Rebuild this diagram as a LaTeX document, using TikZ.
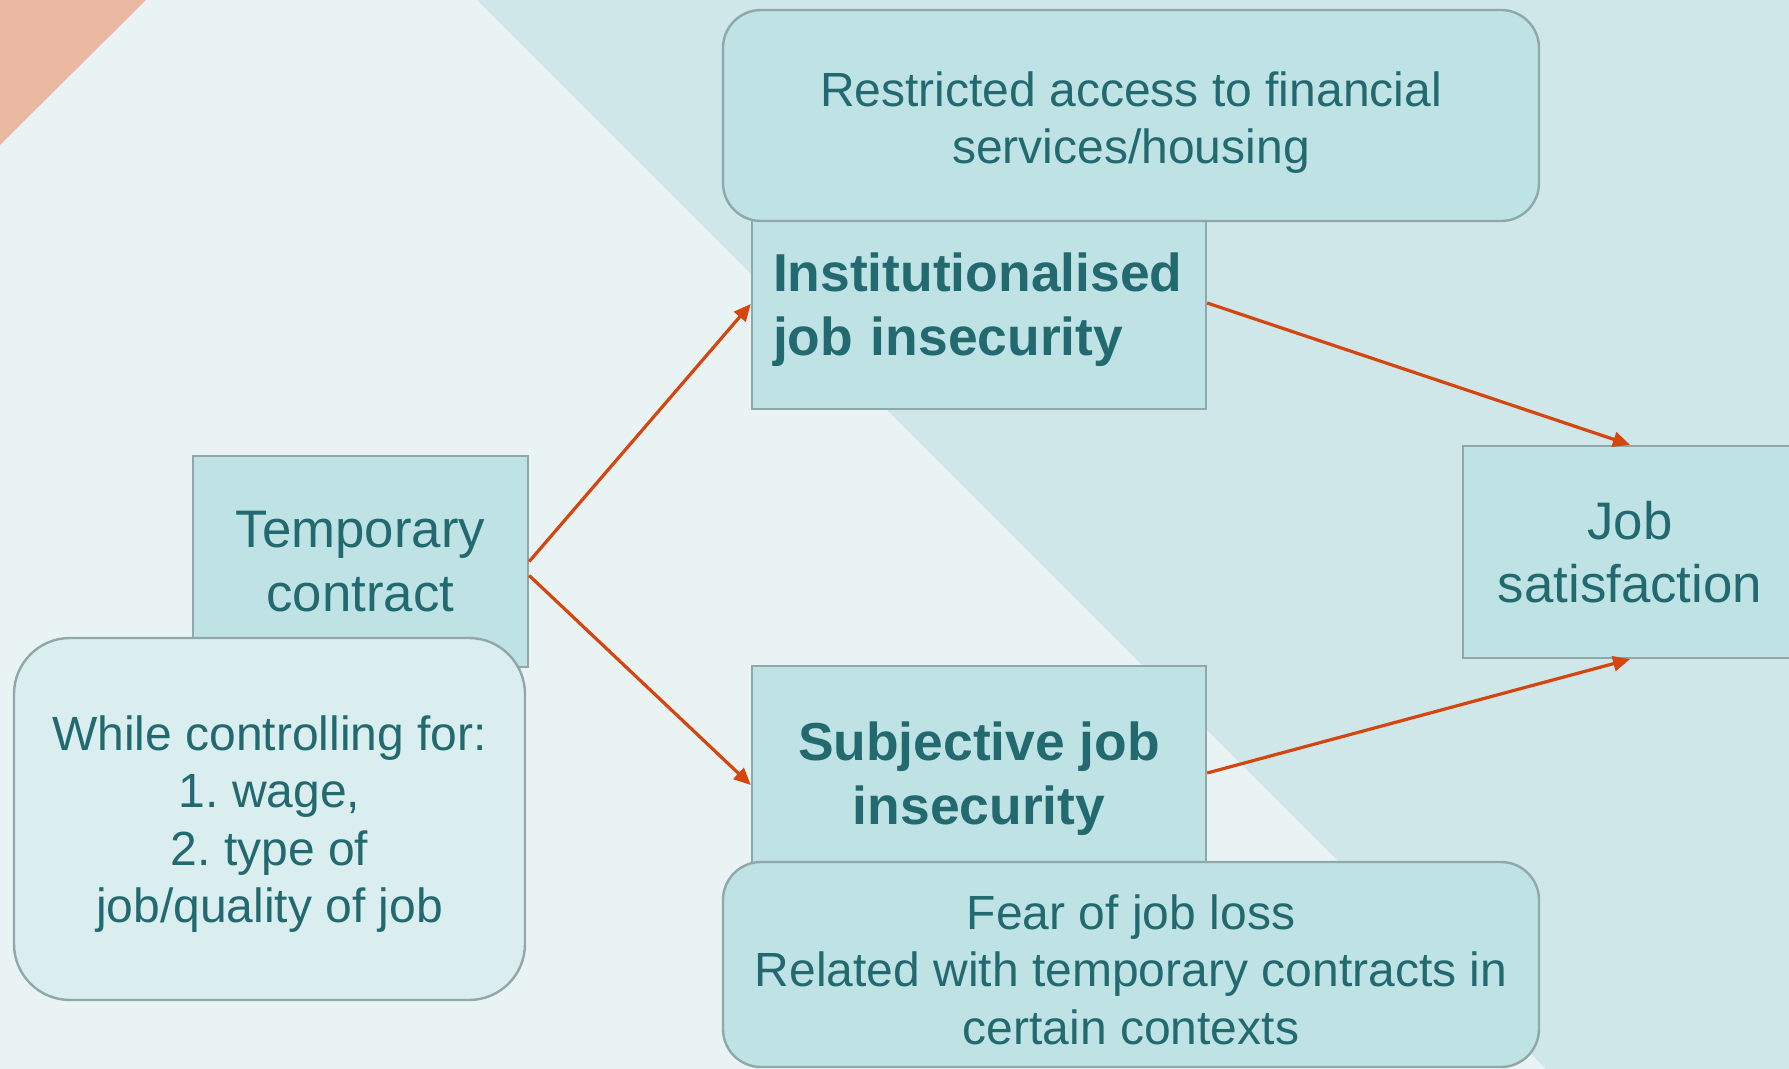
\documentclass[tikz,border=0pt]{standalone}
\usepackage{fontspec}
\setmainfont{Liberation Sans}
\usetikzlibrary{arrows.meta,calc}
\frenchspacing

\definecolor{bglight}{HTML}{EAF3F4}
\definecolor{bgteal}{HTML}{D0E7EA}
\definecolor{bgorange}{HTML}{EBB9A1}
\definecolor{boxfill}{HTML}{BFE2E5}
\definecolor{softfill}{HTML}{DAEEF0}
\definecolor{boxline}{HTML}{8FA8AA}
\definecolor{ink}{HTML}{236A70}
\definecolor{arrowred}{HTML}{D5450E}

\tikzset{
  box/.style={draw=boxline, line width=1.2pt, fill=boxfill, text=ink,
    inner sep=0pt, align=center},
  roundbox/.style={box, rounded corners=19pt},
  bigtext/.style={font=\fontsize{26.4}{31.75}\selectfont},
  boldtext/.style={font=\fontsize{26.7}{32}\selectfont\bfseries},
  smalltext/.style={font=\fontsize{24}{28.75}\selectfont},
  note/.style={text=ink, align=center, smalltext},
  link/.style={draw=arrowred, line width=1.6pt,
    -{Triangle[length=8.5pt,width=7.5pt]}},
}

\begin{document}
\begin{tikzpicture}[x=0.5pt,y=-0.5pt]
  % page and background panels
  \useasboundingbox (0,0) rectangle (1789,1069);
  \fill[bglight] (0,0) rectangle (1789,1069);
  \fill[bgteal] (477,0) -- (1789,0) -- (1789,1069) -- (1546,1069) -- cycle;
  \fill[bgorange] (0,0) -- (146,0) -- (0,145) -- cycle;

  % upper branch
  \node[box, boldtext, minimum width=227pt, minimum height=99pt,
        text width=206pt, align=left] (inst) at (979,310)
        {Institutionalised\\job insecurity};
  \node[roundbox, minimum width=408pt, minimum height=105.5pt,
        label={[note, yshift=-3.5pt]center:{Restricted access to financial\\services/housing}}]
        (restr) at (1131,115.5) {};

  % left: cause and controls
  \node[box, bigtext, minimum width=167.5pt, minimum height=105.5pt]
        (temp) at (360.5,561.5) {Temporary\\contract};
  \node[roundbox, fill=softfill, rounded corners=28pt,
        minimum width=255.5pt, minimum height=181pt,
        label={[note, yshift=-2.5pt]center:{While controlling for:\\1. wage,\\2. type of\\job/quality of job}}]
        (ctrl) at (269.5,819) {};

  % outcome
  \node[box, bigtext, minimum width=167pt, minimum height=106pt]
        (job) at (1630,552) {Job\\satisfaction};

  % lower branch
  \node[box, boldtext, minimum width=227pt, minimum height=112.5pt]
        (subj) at (979,778.5) {Subjective job\\insecurity};
  \node[roundbox, minimum width=408pt, minimum height=102.5pt,
        label={[note, yshift=-2.5pt]center:{Fear of job loss\\Related with temporary contracts in\\certain contexts}}]
        (fear) at (1131,964.5) {};

  % connectors
  \draw[link] (temp.east) -- ([yshift=3pt]inst.west);
  \draw[link] ([yshift=-7pt]temp.east) -- ([yshift=-3.25pt]subj.west);
  \draw[link] ([yshift=3.5pt]inst.east) -- (job.north);
  \draw[link] ([yshift=2.75pt]subj.east) -- (job.south);
\end{tikzpicture}
\end{document}
